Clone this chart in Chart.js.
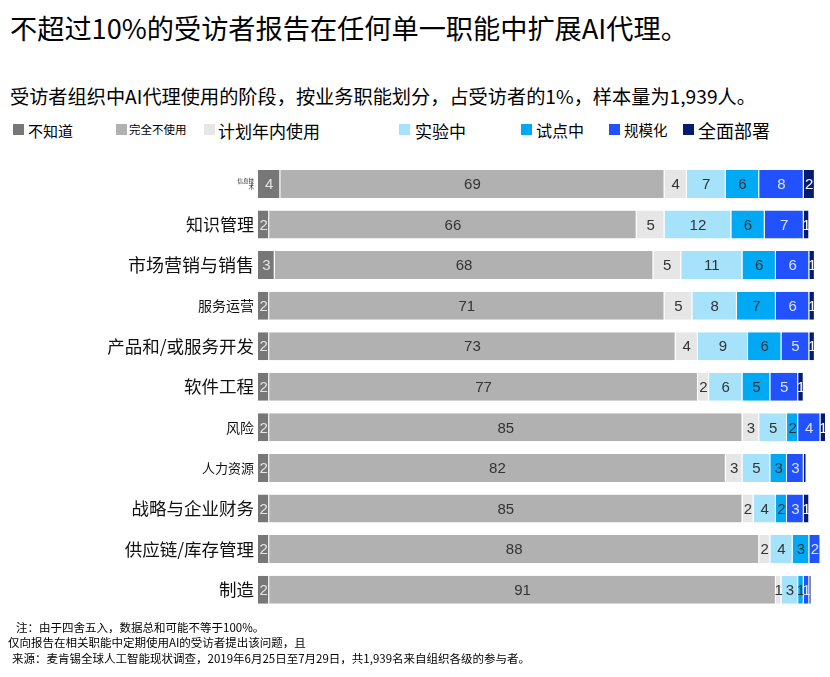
<!DOCTYPE html>
<html>
<head>
<meta charset="utf-8">
<script src="https://cdn.jsdelivr.net/npm/chart.js@4.4.0/dist/chart.umd.min.js"></script>
<style>
body { margin: 0; background: #fff; font-family: "Noto Sans CJK SC", sans-serif; color: #000; }
#wrap { position: relative; width: 830px; height: 677px; overflow: hidden; }
.t { position: absolute; white-space: nowrap; line-height: 1; }
.box { position: absolute; width: 11px; height: 11px; }
#chartBox { position: absolute; left: 0; top: 150px; }
</style>
</head>
<body>
<div id="wrap">
  <div class="t" style="left:10px; top:14px; font-size:27.2px;">不超过10%的受访者报告在任何单一职能中扩展AI代理。</div>
  <div class="t" style="left:10px; top:87px; font-size:19.2px;">受访者组织中AI代理使用的阶段，按业务职能划分，占受访者的1%，样本量为1,939人。</div>
  <div id="legend"></div>
  <div id="chartBox"><canvas id="stagesChart" width="830" height="470"></canvas></div>
  <div class="t" style="left:16px; top:622px; font-size:11.5px;">注：由于四舍五入，数据总和可能不等于100%。</div>
  <div class="t" style="left:8px; top:637px; font-size:11.5px;">仅向报告在相关职能中定期使用AI的受访者提出该问题，且</div>
  <div class="t" style="left:12px; top:653px; font-size:11.5px;">来源：麦肯锡全球人工智能现状调查，2019年6月25日至7月29日，共1,939名来自组织各级的参与者。</div>
</div>
<script>
// data (percent of respondents)
var functions = [['信息技', '术'], '知识管理', '市场营销与销售', '服务运营', '产品和/或服务开发',
    '软件工程', '风险', '人力资源', '战略与企业财务', '供应链/库存管理', '制造'];
var stageNames = ['不知道', '完全不使用', '计划年内使用', '实验中', '试点中', '规模化', '全面部署'];

var dontKnow      = [4, 2, 3, 2, 2, 2, 2, 2, 2, 2, 2];
var notUsing      = [69, 66, 68, 71, 73, 77, 85, 82, 85, 88, 91];
var planning      = [4, 5, 5, 5, 4, 2, 3, 3, 2, 2, 1];
var experimenting = [7, 12, 11, 8, 9, 6, 5, 5, 4, 4, 3];
var piloting      = [6, 6, 6, 7, 6, 5, 2, 3, 2, 3, 1];
var scaling       = [8, 7, 6, 6, 5, 5, 4, 3, 3, 2, 1];
var fullyDeployed = [2, 1, 1, 1, 1, 1, 1, 0.5, 1, 0, 0.4];

// styles
var stageColors = ['#777777', '#b1b1b1', '#e6e6e6', '#a6e3fa', '#00a9f4', '#2251ff', '#051c6e'];
var labelColors = ['#e4e4e4', '#333333', '#333333', '#333333', '#333333', '#dbe3ff', '#ffffff'];
var tickSizes = [5.5, 17, 18, 14, 17.5, 17.5, 14, 13, 17.5, 17.5, 17.5];
var legendBoxX = [13, 116, 204, 399, 521, 609, 683];
var legendTextX = [28, 129, 218, 415, 536, 624, 698];
var legendSizes = [15, 11.5, 17, 17, 16, 14.5, 18];

var legend = document.getElementById('legend');
stageNames.forEach(function(name, i) {
    var b = document.createElement('div');
    b.className = 'box';
    b.style.left = legendBoxX[i] + 'px';
    b.style.top = '124px';
    b.style.background = stageColors[i];
    legend.appendChild(b);
    var t = document.createElement('div');
    t.className = 't';
    t.style.left = legendTextX[i] + 'px';
    t.style.fontSize = legendSizes[i] + 'px';
    t.style.top = (130 - legendSizes[i] / 2) + 'px';
    t.textContent = name;
    legend.appendChild(t);
});

var valueLabels = {
    id: 'valueLabels',
    afterDatasetsDraw: function(chart) {
        var ctx = chart.ctx;
        ctx.save();
        ctx.font = '15px "Liberation Sans", Arial, sans-serif';
        ctx.textAlign = 'center';
        ctx.textBaseline = 'middle';
        chart.data.datasets.forEach(function(ds, i) {
            chart.getDatasetMeta(i).data.forEach(function(bar, j) {
                var v = ds.data[j];
                if (v < 1) return;
                ctx.fillStyle = labelColors[i];
                ctx.fillText(String(v), (bar.base + bar.x) / 2, bar.y + 1);
            });
        });
        ctx.restore();
    }
};

var series = [dontKnow, notUsing, planning, experimenting, piloting, scaling, fullyDeployed];
var ctx = document.getElementById('stagesChart').getContext('2d');
var stagesChart = new Chart(ctx, {
    type: 'bar',
    data: {
        labels: functions,
        datasets: series.map(function(values, i) {
            return {
                label: stageNames[i],
                data: values,
                backgroundColor: stageColors[i],
                borderColor: '#ffffff',
                borderWidth: {left: 0, right: 1, top: 0, bottom: 0},
                borderSkipped: false,
                barPercentage: 0.69,
                categoryPercentage: 1
            };
        })
    },
    options: {
        indexAxis: 'y',
        responsive: false,
        animation: false,
        layout: {padding: {top: 4, right: 4, bottom: 0, left: 0}},
        plugins: {
            legend: {display: false},
            tooltip: {enabled: false}
        },
        scales: {
            x: {stacked: true, min: 0, max: 102, display: false},
            y: {
                stacked: true,
                grid: {display: false, drawTicks: false},
                border: {display: false},
                ticks: {
                    color: '#111',
                    padding: 4,
                    font: function(c) {
                        return {family: '"Noto Sans CJK SC", sans-serif', size: tickSizes[c.index] || 16, lineHeight: 1.1};
                    }
                },
                afterFit: function(scale) { scale.width = 258; }
            }
        }
    },
    plugins: [valueLabels]
});
</script>
</body>
</html>
